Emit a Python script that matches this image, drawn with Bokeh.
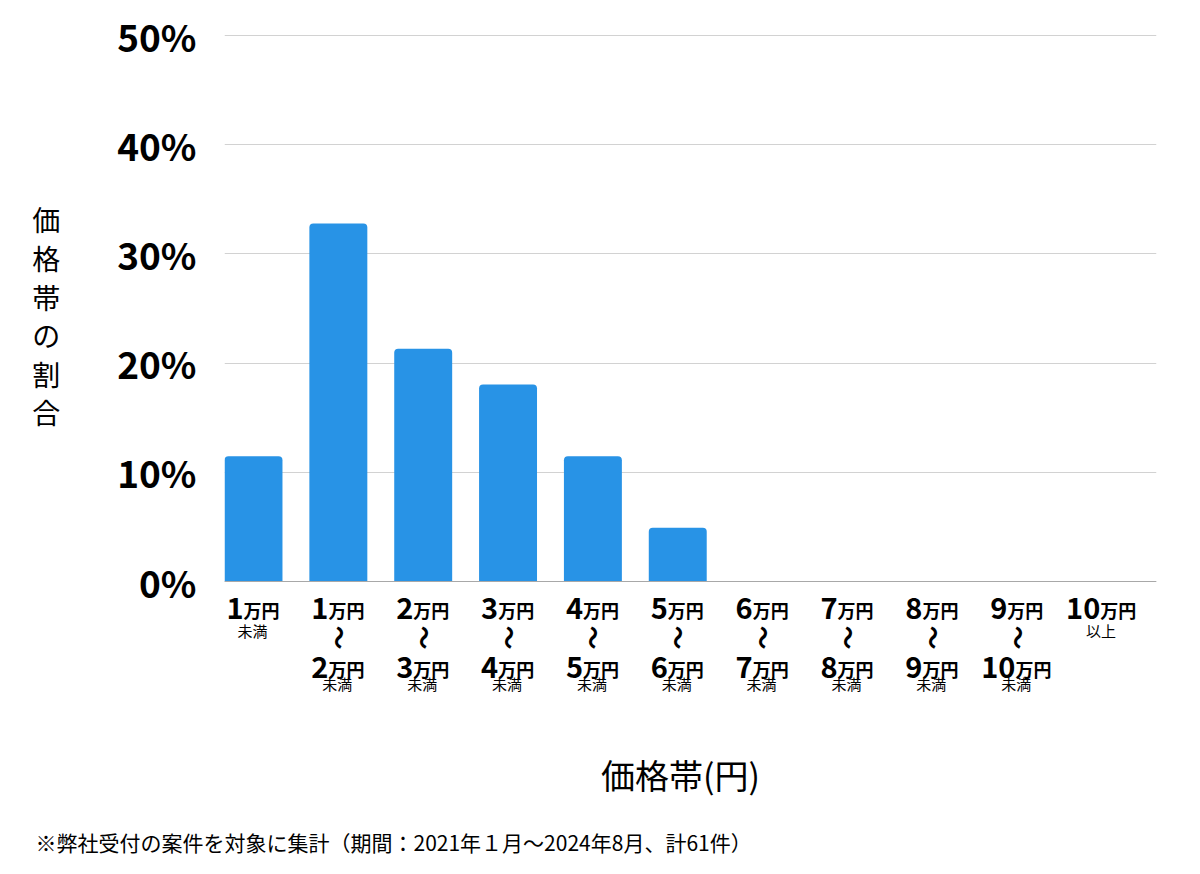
import math
from bokeh.plotting import figure
from bokeh.models import Range1d, FixedTicker, Label, Span, Title
from bokeh.core.properties import value
from bokeh.embed import file_html
from bokeh.resources import INLINE

# ---------------- data ----------------
categories = ["1万円未満", "1万円〜2万円未満", "2万円〜3万円未満", "3万円〜4万円未満",
              "4万円〜5万円未満", "5万円〜6万円未満", "6万円〜7万円未満", "7万円〜8万円未満",
              "8万円〜9万円未満", "9万円〜10万円未満", "10万円以上"]
shares = [11.48, 32.79, 21.31, 18.03, 11.48, 4.92, 0, 0, 0, 0, 0]   # %

label_top_num = ["1", "1", "2", "3", "4", "5", "6", "7", "8", "9", "10"]
label_top_note = ["未満", "", "", "", "", "", "", "", "", "", "以上"]
label_bottom_num = ["", "2", "3", "4", "5", "6", "7", "8", "9", "10", ""]
label_bottom_note = ["", "未満", "未満", "未満", "未満", "未満", "未満", "未満", "未満", "未満", ""]
unit_text = "万円"
range_mark = "〜"

y_ticks = [0, 10, 20, 30, 40, 50]
y_tick_labels = ["0%", "10%", "20%", "30%", "40%", "50%"]

y_title = "価格帯の割合"
x_title = "価格帯(円)"
footnote = "※弊社受付の案件を対象に集計（期間：2021年１月〜2024年8月、計61件）"

# ---------------- style / layout ----------------
FONT = "Noto Sans CJK JP"
BAR = "#2893e6"
GRID = "#d2d2d2"
BASE = "#a8a8a8"

W, H = 1184, 858
BOTTOM = 30
FL, FR, FT, FB = 224, 1156, 34, H - BOTTOM
ZERO_Y, TOP_Y = 581, 35          # pixel rows of 0% and 50%
PX_PER_UNIT = (ZERO_Y - TOP_Y) / 50.0
CAT_PX = 84.85
FIRST_CX = 253

X0 = -(FIRST_CX - FL) / CAT_PX
X1 = X0 + (FR - FL) / CAT_PX
Y1 = (ZERO_Y - FT) / PX_PER_UNIT
Y0 = -(FB - ZERO_Y) / PX_PER_UNIT


def xd(sx):
    return X0 + (sx - FL) / (FR - FL) * (X1 - X0)


def yd(sy):
    return Y1 - (sy - FT) / (FB - FT) * (Y1 - Y0)


p = figure(width=W, height=H, output_backend="svg", toolbar_location=None,
           x_range=Range1d(X0, X1), y_range=Range1d(Y0, Y1),
           x_axis_location=None,
           min_border_left=FL, min_border_right=W - FR,
           min_border_top=FT, min_border_bottom=BOTTOM)
p.outline_line_color = None
p.background_fill_color = "white"
p.border_fill_color = "white"

# y axis
ax = p.yaxis[0]
ax.ticker = FixedTicker(ticks=y_ticks)
ax.major_label_overrides = {t: l for t, l in zip(y_ticks, y_tick_labels)}
ax.axis_line_color = None
ax.major_tick_line_color = None
ax.minor_tick_line_color = None
ax.major_tick_out = 0
ax.major_tick_in = 0
ax.major_label_standoff = 28
ax.major_label_text_font = FONT
ax.major_label_text_font_style = "bold"
ax.major_label_text_font_size = "37px"
ax.major_label_text_color = "#000000"
ax.axis_label = "\n".join(list(y_title) + ["\u3000"] * 6)
ax.axis_label_orientation = "horizontal"
ax.axis_label_standoff = 54
ax.axis_label_text_font = FONT
ax.axis_label_text_font_style = "normal"
ax.axis_label_text_font_size = "28px"
ax.axis_label_text_line_height = 0.964
ax.axis_label_text_color = "#000000"

p.xgrid.visible = False
p.ygrid.grid_line_color = GRID
p.ygrid.grid_line_width = 1

idx = list(range(len(categories)))

p.vbar(x=idx, top=shares, bottom=0, width=0.683, fill_color=BAR, line_color=None,
       border_radius=(4, 4, 0, 0))

p.add_layout(Span(location=0, dimension="width", line_color=BASE, line_width=1.2))

# ---------------- x category labels ----------------
NUM_PX = 29
UNIT_PX = 18
DIGIT_W = 0.56 * NUM_PX
UNIT_W = 2 * UNIT_PX


def split_offsets(nums):
    return [((len(n) * DIGIT_W) - UNIT_W) / 2 if n else 0 for n in nums]


zeros = [0] * len(idx)
top_off = split_offsets(label_top_num)
bot_off = split_offsets(label_bottom_num)

common = dict(text_font=value(FONT), text_color="#000000", text_baseline="middle")

# first line
p.text(x=idx, y=zeros, text=label_top_num, x_offset=top_off, y_offset=26,
       text_font_style="bold", text_font_size=f"{NUM_PX}px", text_align="right", **common)
p.text(x=idx, y=zeros, text=[unit_text] * len(idx), x_offset=top_off, y_offset=28,
       text_font_style="bold", text_font_size=f"{UNIT_PX}px", text_align="left", **common)
p.text(x=idx, y=zeros, text=label_top_note, x_offset=-1, y_offset=49,
       text_font_size="15px", text_align="center", **common)

# range mark
marks = [range_mark if b else "" for b in label_bottom_num]
p.text(x=idx, y=zeros, text=marks, x_offset=-1, y_offset=56, angle=math.pi / 2,
       text_font_style="bold", text_font_size="24px", text_align="center", **common)

# second line
bot_units = [unit_text if b else "" for b in label_bottom_num]
p.text(x=idx, y=zeros, text=label_bottom_num, x_offset=bot_off, y_offset=85,
       text_font_style="bold", text_font_size=f"{NUM_PX}px", text_align="right", **common)
p.text(x=idx, y=zeros, text=bot_units, x_offset=bot_off, y_offset=87,
       text_font_style="bold", text_font_size=f"{UNIT_PX}px", text_align="left", **common)
p.text(x=idx, y=zeros, text=label_bottom_note, x_offset=-1, y_offset=101.5,
       text_font_size="15px", text_align="center", **common)

# ---------------- x title ----------------
p.add_layout(Label(x=xd(680), y=yd(774), text=x_title, text_font=FONT,
                   text_font_size="34px", text_align="center", text_baseline="middle",
                   text_color="#000000"))

# ---------------- footnote ----------------
p.add_layout(Title(text=footnote, align="left", offset=35 - FL, text_font=FONT,
                   text_font_size="21px", text_font_style="normal",
                   vertical_align="bottom", text_color="#000000", standoff=-7), "below")

open("out.html", "w").write(file_html(p, INLINE))
